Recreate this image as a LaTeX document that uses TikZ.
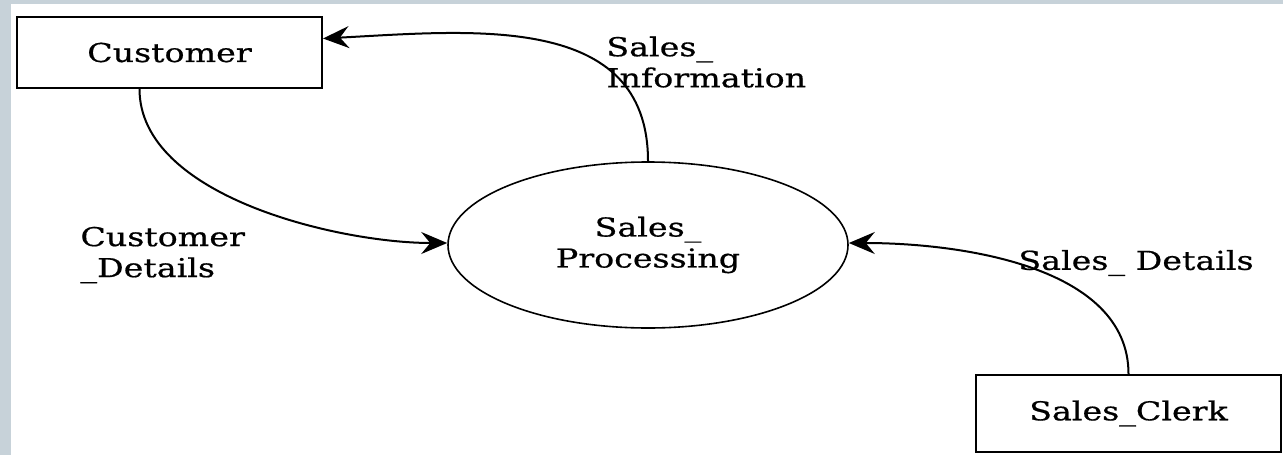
\documentclass[tikz,border=0pt]{standalone}
\usepackage{fontspec}
\setmainfont{DejaVu Serif}[FakeStretch=1.28,FakeBold=0.6]
\usepackage{tikz}
\usetikzlibrary{arrows.meta}
\usetikzlibrary{shapes.geometric}
\definecolor{framegray}{RGB}{199,210,217}
\tikzset{
	entity/.style={draw=black,line width=1pt,minimum width=152.5pt,inner sep=0pt},
	process/.style={draw=black,line width=0.8pt,ellipse,minimum width=200pt,minimum height=83pt,inner sep=0pt,align=center},
	flow/.style={line width=1pt,-{Stealth[length=13pt,width=11pt,inset=4.5pt]}},
	flowlabel/.style={align=left,inner sep=0pt}
}
\begin{document}
\begin{tikzpicture}[x=0.5pt,y=-0.5pt,font=\fontsize{13}{15.5}\selectfont]
	\useasboundingbox (0,0) rectangle (1283,455);
	\fill[framegray] (0,0) rectangle (1283,455);
	\fill[white] (11,4) rectangle (1283,455);
	% external entities and process
	\node[entity,minimum height=35.5pt] (cust) at (169.5,52.5) {Customer};
	\node[entity,minimum height=38.5pt] (clerk) at (1128.5,413.5) {Sales\_Clerk};
	\node[process] (proc) at (648,245) {Sales\_\\Processing};
	% data flows
	\draw[flow] ([xshift=-15pt]cust.south) to[out=-90,in=180,looseness=0.8] ([yshift=1pt]proc.west);
	\draw[flow] (proc.north) to[out=90,in=3,looseness=1.1] ([yshift=7pt]cust.east);
	\draw[flow] (clerk.north) to[out=90,in=0,looseness=0.9] ([yshift=1pt]proc.east);
	% labels
	\node[flowlabel,anchor=west] (lblinfo) at (606,62) {Sales\_\\Information};
	\node[flowlabel,anchor=west] (lblcust) at (80,255) {Customer\\\_Details};
	\node[flowlabel,anchor=west] (lbldet) at (1018,263) {Sales\_ Details};
\end{tikzpicture}
\end{document}
